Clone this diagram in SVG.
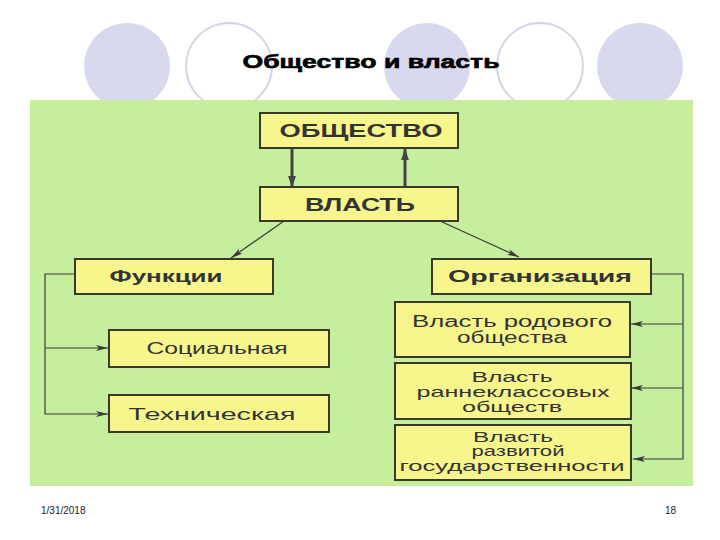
<svg xmlns="http://www.w3.org/2000/svg" width="720" height="540" viewBox="0 0 720 540">
<defs>
<style>
.bg{fill:#ffffff}
.disc{fill:#d8d8ee}
.ring{fill:#ffffff;stroke:#d4d4e4;stroke-width:2}
.panel{fill:#c5ef9d}
.box{fill:#f6f68c;stroke:#3a3a2c;stroke-width:2}
.tb{font-family:"Liberation Sans",Arial,sans-serif;font-weight:bold;fill:#333333;text-anchor:middle}
.tn{font-family:"Liberation Sans",Arial,sans-serif;fill:#333333;text-anchor:middle}
.title{font-family:"Liberation Sans",Arial,sans-serif;font-weight:bold;fill:#000000;stroke:#000;stroke-width:0.6;text-anchor:middle}
.foot{font-family:"Liberation Sans",Arial,sans-serif;fill:#222;font-size:10px}
.thick{stroke:#444444;stroke-width:3;fill:none}
.thin{stroke:#3a3a3a;stroke-width:1.2;fill:none}
</style>
<marker id="big" markerUnits="userSpaceOnUse" markerWidth="12" markerHeight="18" refX="17" refY="6" orient="auto" viewBox="0 0 18 12">
<path d="M0,0 L18,6 L0,12 z" fill="#444444"/>
</marker>
<marker id="small" markerUnits="userSpaceOnUse" markerWidth="12" markerHeight="6" refX="12" refY="3" orient="auto" viewBox="0 0 12 6">
<path d="M0,0 L12,3 L0,6 L3,3 z" fill="#3a3a3a"/>
</marker>
</defs>
<rect class="bg" x="0" y="0" width="720" height="540"/>
<g id="decor">
<circle class="disc" cx="127" cy="66" r="43"/>
<circle class="ring" cx="229" cy="66" r="43"/>
<circle class="disc" cx="427" cy="66" r="43"/>
<circle class="ring" cx="540" cy="66" r="43"/>
<circle class="disc" cx="640" cy="66" r="43"/>
</g>
<text class="title" x="371" y="68" font-size="18" textLength="257" lengthAdjust="spacingAndGlyphs">Общество и власть</text>
<rect class="panel" x="30" y="100" width="663" height="386"/>
<g id="connectors">
<line class="thick" x1="292" y1="149" x2="292" y2="187" marker-end="url(#big)"/>
<line class="thick" x1="405" y1="187" x2="405" y2="149" marker-end="url(#big)"/>
<line class="thin" x1="284" y1="221" x2="231" y2="258" marker-end="url(#small)"/>
<line class="thin" x1="440" y1="221" x2="519" y2="257" marker-end="url(#small)"/>
<path class="thin" d="M75,274 H45 V414 H108" marker-end="url(#small)"/>
<path class="thin" d="M45,348 H108" marker-end="url(#small)"/>
<path class="thin" d="M651,274 H683 V459 H633" marker-end="url(#small)"/>
<path class="thin" d="M683,324 H631" marker-end="url(#small)"/>
<path class="thin" d="M683,388 H631" marker-end="url(#small)"/>
</g>
<g id="n-obshchestvo">
<rect class="box" x="260" y="113" width="198" height="35"/>
<text class="tb" x="361" y="137" font-size="18" textLength="163" lengthAdjust="spacingAndGlyphs">ОБЩЕСТВО</text>
</g>
<g id="n-vlast">
<rect class="box" x="260" y="187" width="198" height="34"/>
<text class="tb" x="360" y="211" font-size="18" textLength="110" lengthAdjust="spacingAndGlyphs">ВЛАСТЬ</text>
</g>
<g id="n-funktsii">
<rect class="box" x="75" y="259" width="198" height="35"/>
<text class="tb" x="166" y="282" font-size="17" textLength="113" lengthAdjust="spacingAndGlyphs">Функции</text>
</g>
<g id="n-organizatsiya">
<rect class="box" x="432" y="259" width="219" height="35"/>
<text class="tb" x="540" y="282" font-size="17" textLength="184" lengthAdjust="spacingAndGlyphs">Организация</text>
</g>
<g id="n-sotsialnaya">
<rect class="box" x="109" y="330" width="220" height="37"/>
<text class="tn" x="217" y="354" font-size="17" textLength="141" lengthAdjust="spacingAndGlyphs">Социальная</text>
</g>
<g id="n-tekhnicheskaya">
<rect class="box" x="109" y="395" width="220" height="37"/>
<text class="tn" x="212" y="420" font-size="17" textLength="167" lengthAdjust="spacingAndGlyphs">Техническая</text>
</g>
<g id="n-rodovoe">
<rect class="box" x="395" y="302" width="235" height="55"/>
<text class="tn" x="512" y="327" font-size="16" textLength="200" lengthAdjust="spacingAndGlyphs">Власть  родового</text>
<text class="tn" x="512" y="343" font-size="16" textLength="110" lengthAdjust="spacingAndGlyphs">общества</text>
</g>
<g id="n-rannie">
<rect class="box" x="395" y="363" width="236" height="56"/>
<text class="tn" x="512" y="382" font-size="15" textLength="81" lengthAdjust="spacingAndGlyphs">Власть</text>
<text class="tn" x="513" y="397" font-size="15" textLength="193" lengthAdjust="spacingAndGlyphs">раннеклассовых</text>
<text class="tn" x="512" y="412" font-size="15" textLength="100" lengthAdjust="spacingAndGlyphs">обществ</text>
</g>
<g id="n-gosudarstvo">
<rect class="box" x="395" y="425" width="236" height="55"/>
<text class="tn" x="513" y="442" font-size="15" textLength="80" lengthAdjust="spacingAndGlyphs">Власть</text>
<text class="tn" x="518" y="456" font-size="15" textLength="93" lengthAdjust="spacingAndGlyphs">развитой</text>
<text class="tn" x="512" y="471" font-size="15" textLength="225" lengthAdjust="spacingAndGlyphs">государственности</text>
</g>
<text class="foot" x="41" y="514">1/31/2018</text>
<text class="foot" x="665" y="514">18</text>
</svg>
